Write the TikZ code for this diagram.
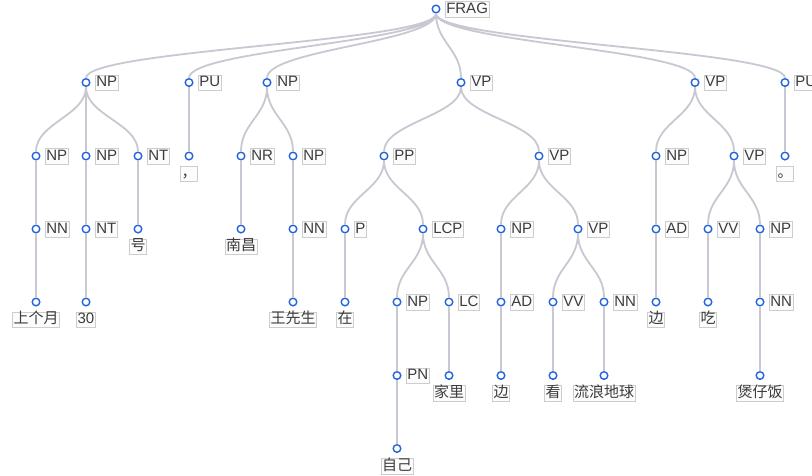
\documentclass[tikz,border=0pt]{standalone}
\usepackage{fontspec}
\setmainfont{Liberation Sans}
\newfontfamily\cjk{Noto Sans CJK SC}
\usetikzlibrary{positioning}
\definecolor{dotblue}{RGB}{35,100,220}
\definecolor{linkgray}{RGB}{200,200,210}
\definecolor{boxgray}{RGB}{205,205,205}
\definecolor{boxfill}{RGB}{252,252,252}
\definecolor{txtgray}{RGB}{60,60,60}
\tikzstyle{dot}=[circle, draw=dotblue, fill=white, line width=1.4pt,
    minimum size=7.6pt, inner sep=0pt]
\tikzstyle{tag}=[draw=boxgray, fill=boxfill, line width=0.5pt, text=txtgray,
    inner xsep=1pt, inner ysep=0.5pt, text height=11.5pt, text depth=3pt,
    font=\fontsize{15}{15}\selectfont]
\tikzstyle{word}=[tag, font=\fontsize{15}{15}\selectfont\cjk]
\tikzstyle{link}=[draw=linkgray, line width=1.8pt,
    to path={.. controls ([yshift=-33pt]\tikztostart) and ([yshift=33pt]\tikztotarget) .. (\tikztotarget)}]
% category node: dot with its tag on the right
\newcommand{\catnode}[4]{\node (#1) [dot] at (#2,#3) {}; \node (#1-t) [tag, right=4.5pt of #1] {#4};}
% leaf node: dot with its word below
\newcommand{\leafnode}[4]{\node (#1) [dot] at (#2,#3) {}; \node (#1-t) [word, below=5pt of #1] {#4};}

\begin{document}
\begin{tikzpicture}[x=1pt, y=-1pt]
    \path [fill=white] (0,0) rectangle (812,475);
    \useasboundingbox (0,0) rectangle (812,475);
    % level 0 and 1
    \catnode{frag}{436}{9}{FRAG}
    \catnode{np1}{86}{82.5}{NP}
    \catnode{pu1}{189}{82.5}{PU}
    \catnode{np2}{267}{82.5}{NP}
    \catnode{vp1}{461}{82.5}{VP}
    \catnode{vp2}{695}{82.5}{VP}
    \catnode{pu2}{785}{82.5}{PU}
    % level 2
    \catnode{np3}{36}{156}{NP}
    \catnode{np4}{86}{156}{NP}
    \catnode{nt1}{138}{156}{NT}
    \leafnode{comma}{189}{156}{，}
    \catnode{nr}{241}{156}{NR}
    \catnode{np5}{293}{156}{NP}
    \catnode{pp}{384}{156}{PP}
    \catnode{vp3}{539}{156}{VP}
    \catnode{np6}{656}{156}{NP}
    \catnode{vp4}{734}{156}{VP}
    \leafnode{period}{785}{156}{。}
    % level 3
    \catnode{nn1}{36}{229}{NN}
    \catnode{nt2}{86}{229}{NT}
    \leafnode{hao}{138}{229}{号}
    \leafnode{nanchang}{241}{229}{南昌}
    \catnode{nn2}{293}{229}{NN}
    \catnode{p}{345}{229}{P}
    \catnode{lcp}{423}{229}{LCP}
    \catnode{np7}{501}{229}{NP}
    \catnode{vp5}{578}{229}{VP}
    \catnode{ad1}{656}{229}{AD}
    \catnode{vv1}{708}{229}{VV}
    \catnode{np8}{760}{229}{NP}
    % level 4
    \leafnode{lastmonth}{36}{302}{上个月}
    \leafnode{thirty}{86}{302}{\normalfont 30}
    \leafnode{wang}{293}{302}{王先生}
    \leafnode{zai}{345}{302}{在}
    \catnode{np9}{397}{302}{NP}
    \catnode{lc}{449}{302}{LC}
    \catnode{ad2}{501}{302}{AD}
    \catnode{vv2}{553}{302}{VV}
    \catnode{nn3}{604}{302}{NN}
    \leafnode{bianb}{656}{302}{边}
    \leafnode{chi}{708}{302}{吃}
    \catnode{nn4}{760}{302}{NN}
    % level 5 and 6
    \catnode{pn}{397}{375.5}{PN}
    \leafnode{jiali}{449}{375.5}{家里}
    \leafnode{biana}{501}{375.5}{边}
    \leafnode{kan}{553}{375.5}{看}
    \leafnode{liulang}{604}{375.5}{流浪地球}
    \leafnode{baozai}{760}{375.5}{煲仔饭}
    \leafnode{ziji}{397}{448.5}{自己}
    % links
    \path [link]
        (frag) to (np1) (frag) to (pu1) (frag) to (np2)
        (frag) to (vp1) (frag) to (vp2) (frag) to (pu2)
        (np1) to (np3) (np1) to (np4) (np1) to (nt1)
        (pu1) to (comma) (pu2) to (period)
        (np2) to (nr) (np2) to (np5)
        (vp1) to (pp) (vp1) to (vp3)
        (vp2) to (np6) (vp2) to (vp4)
        (np3) to (nn1) (nn1) to (lastmonth)
        (np4) to (nt2) (nt2) to (thirty)
        (nt1) to (hao) (nr) to (nanchang)
        (np5) to (nn2) (nn2) to (wang)
        (pp) to (p) (pp) to (lcp) (p) to (zai)
        (lcp) to (np9) (lcp) to (lc) (np9) to (pn) (pn) to (ziji) (lc) to (jiali)
        (vp3) to (np7) (vp3) to (vp5) (np7) to (ad2) (ad2) to (biana)
        (vp5) to (vv2) (vp5) to (nn3) (vv2) to (kan) (nn3) to (liulang)
        (np6) to (ad1) (ad1) to (bianb)
        (vp4) to (vv1) (vp4) to (np8) (vv1) to (chi)
        (np8) to (nn4) (nn4) to (baozai);
\end{tikzpicture}
\end{document}
